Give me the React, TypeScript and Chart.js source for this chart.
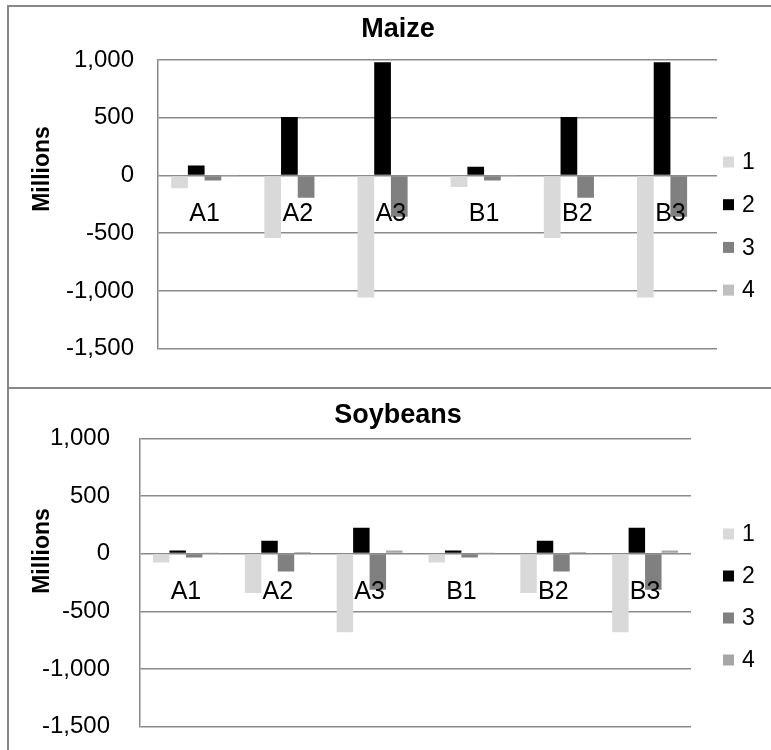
import React, { useEffect, useRef } from 'react';
import { Chart, registerables } from 'chart.js';

Chart.register(...registerables);

// ---- data ----
const categories = ['A1', 'A2', 'A3', 'B1', 'B2', 'B3'];
const seriesLabels = ['1', '2', '3', '4'];

const maizeS1 = [-110, -542, -1058, -101, -542, -1058];
const maizeS2 = [87, 507, 980, 76, 507, 980];
const maizeS3 = [-43, -194, -357, -43, -194, -357];
const maizeS4 = [-2, -5, -8, -2, -5, -8];

const soyS1 = [-78, -342, -681, -78, -342, -681];
const soyS2 = [28, 112, 224, 28, 112, 224];
const soyS3 = [-34, -155, -313, -34, -155, -313];
const soyS4 = [4, 14, 28, 4, 14, 28];

const yMin = -1500;
const yMax = 1000;
const yStep = 500;

const FONT = "'Liberation Sans', Arial, sans-serif";

const sideLegendPlugin = {
  id: 'sideLegend',
  afterDraw(chart: any, _args: any, opts: any) {
    const { ctx } = chart;
    ctx.save();
    ctx.font = `${opts.fontSize}px ${FONT}`;
    ctx.textBaseline = 'middle';
    ctx.textAlign = 'left';
    chart.data.datasets.forEach((ds: any, i: number) => {
      const cy = opts.y + i * opts.spacing;
      ctx.fillStyle = ds.backgroundColor;
      ctx.fillRect(opts.x, cy - opts.box / 2, opts.box, opts.box);
      ctx.fillStyle = '#000';
      ctx.fillText(ds.label, opts.x + opts.box + opts.gap, cy + 1);
    });
    ctx.restore();
  },
};

const axisTitlePlugin = {
  id: 'axisTitle',
  afterDraw(chart: any, _args: any, opts: any) {
    const { ctx } = chart;
    ctx.save();
    ctx.translate(opts.x, opts.y);
    ctx.rotate(-Math.PI / 2);
    ctx.font = `bold ${opts.fontSize}px ${FONT}`;
    ctx.fillStyle = '#000';
    ctx.textAlign = 'center';
    ctx.textBaseline = 'alphabetic';
    ctx.fillText(opts.text, 0, 0);
    ctx.restore();
  },
};

type PanelProps = {
  title: string;
  series: number[][];
  colors: string[];
  left: number;
  top: number;
  width: number;
  height: number;
  axisWidth: number;
  rightWidth: number;
  padBottom: number;
  titlePadTop: number;
  titlePadBottom: number;
  tickPad: number;
  legendY: number;
  legendSpacing: number;
  axisTitleY: number;
};

function BarPanel(p: PanelProps) {
  const ref = useRef<HTMLCanvasElement>(null);
  useEffect(() => {
    const grid = '#8a8a8a';
    const chart = new Chart(ref.current as HTMLCanvasElement, {
      type: 'bar',
      data: {
        labels: categories,
        datasets: p.series.map((d, i) => ({
          label: seriesLabels[i],
          data: d,
          backgroundColor: p.colors[i],
          borderWidth: 0,
          barPercentage: 1,
          categoryPercentage: 0.717,
          yAxisID: 'y',
        })),
      },
      plugins: [sideLegendPlugin, axisTitlePlugin],
      options: {
        responsive: false,
        animation: false,
        devicePixelRatio: 1,
        layout: { padding: { left: 0, right: 0, top: 0, bottom: p.padBottom } },
        plugins: {
          legend: { display: false },
          tooltip: { enabled: false },
          title: {
            display: true,
            text: p.title,
            color: '#000',
            font: { family: FONT, size: 27, weight: 'bold', lineHeight: 1.2 },
            padding: { top: p.titlePadTop, bottom: p.titlePadBottom },
          },
          sideLegend: { x: 714, y: p.legendY, spacing: p.legendSpacing, box: 11, gap: 8, fontSize: 23 },
          axisTitle: { text: 'Millions', x: 40, y: p.axisTitleY, fontSize: 23 },
        } as any,
        scales: {
          x: {
            position: { y: 0 } as any,
            offset: true,
            grid: { display: false, drawTicks: false },
            border: { display: false },
            ticks: { z: 1, color: '#000', font: { family: FONT, size: 25 }, padding: 23.5 },
          },
          y: {
            min: yMin,
            max: yMax,
            grid: { color: grid, lineWidth: 1.5, drawTicks: false },
            border: { display: true, color: grid, width: 1.5 },
            ticks: {
              stepSize: yStep,
              padding: p.tickPad,
              color: '#000',
              font: { family: FONT, size: 24 },
              callback: (v: any) => Number(v).toLocaleString('en-US'),
            },
            afterFit: (s: any) => {
              s.width = p.axisWidth;
            },
          },
          legendSpace: {
            type: 'linear',
            position: 'right',
            min: yMin,
            max: yMax,
            grid: { display: false, drawTicks: false },
            border: { display: false },
            ticks: { display: false },
            afterFit: (s: any) => {
              s.width = p.rightWidth;
            },
          },
        } as any,
      },
    });
    return () => chart.destroy();
  }, []);
  return (
    <canvas
      ref={ref}
      width={p.width}
      height={p.height}
      style={{ position: 'absolute', left: p.left, top: p.top, width: p.width, height: p.height }}
    />
  );
}

export default function App() {
  const border = '2px solid #888';
  return (
    <div
      style={{
        position: 'absolute',
        left: 0,
        top: 0,
        width: 771,
        height: 750,
        overflow: 'hidden',
        background: '#fff',
      }}
    >
      <div
        style={{
          position: 'absolute',
          left: 7,
          top: 5,
          width: 900,
          height: 380,
          borderTop: border,
          borderLeft: border,
          borderBottom: border,
        }}
      />
      <div
        style={{
          position: 'absolute',
          left: 7,
          top: 389,
          width: 900,
          height: 400,
          borderLeft: border,
        }}
      />
      <BarPanel
        title="Maize"
        series={[maizeS1, maizeS2, maizeS3, maizeS4]}
        colors={['#d9d9d9', '#000000', '#808080', '#bfbfbf']}
        left={9}
        top={7}
        width={778}
        height={380}
        axisWidth={149}
        rightWidth={70}
        padBottom={38}
        titlePadTop={6}
        titlePadBottom={14.6}
        tickPad={24}
        legendY={155}
        legendSpacing={42.7}
        axisTitleY={162}
      />
      <BarPanel
        title="Soybeans"
        series={[soyS1, soyS2, soyS3, soyS4]}
        colors={['#d9d9d9', '#000000', '#808080', '#a6a6a6']}
        left={9}
        top={389}
        width={778}
        height={382}
        axisWidth={131}
        rightWidth={96}
        padBottom={44}
        titlePadTop={10}
        titlePadBottom={6.9}
        tickPad={30}
        legendY={145}
        legendSpacing={42}
        axisTitleY={162}
      />
    </div>
  );
}
